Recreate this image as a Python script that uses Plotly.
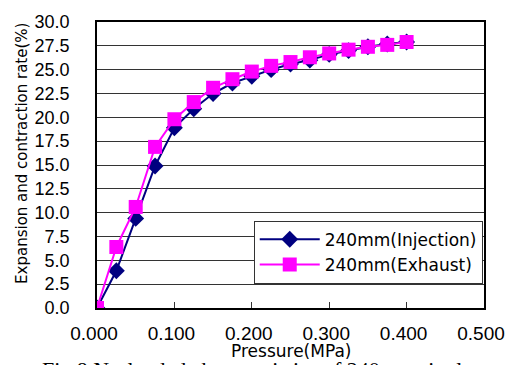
import plotly.graph_objects as go

pressure = [0.0, 0.025, 0.05, 0.075, 0.1, 0.125, 0.15, 0.175, 0.2, 0.225, 0.25, 0.275, 0.3, 0.325, 0.35, 0.375, 0.4]
injection = [0.0, 3.9, 9.4, 14.9, 18.9, 20.9, 22.5, 23.6, 24.3, 25.0, 25.6, 26.0, 26.6, 27.0, 27.4, 27.7, 27.9]
exhaust = [0.0, 6.4, 10.6, 16.9, 19.8, 21.6, 23.1, 24.0, 24.8, 25.4, 25.8, 26.3, 26.7, 27.1, 27.4, 27.6, 27.9]
xticks = [0.0, 0.1, 0.2, 0.3, 0.4, 0.5]
xticklabels = ["0.000", "0.100", "0.200", "0.300", "0.400", "0.500"]
yticks = [0, 2.5, 5, 7.5, 10, 12.5, 15, 17.5, 20, 22.5, 25, 27.5, 30]
yticklabels = [f"{v:.1f}" for v in yticks]

font = "Liberation Sans, Arial, sans-serif"
H, T, B = 365, 15, 57
PH = H - T - B

fig = go.Figure()
fig.add_trace(go.Scatter(
    x=pressure, y=injection, mode="lines+markers", name="240mm(Injection)",
    line=dict(color="#000080", width=2),
    marker=dict(symbol="diamond", size=13, color="#000080"),
))
fig.add_trace(go.Scatter(
    x=pressure, y=exhaust, mode="lines+markers", name="240mm(Exhaust)",
    line=dict(color="#FF00FF", width=2),
    marker=dict(symbol="square", size=14, color="#FF00FF"),
))

fig.update_layout(
    width=517, height=H,
    margin=dict(l=97, r=22, t=T, b=B),
    paper_bgcolor="white", plot_bgcolor="white",
    font=dict(family=font, size=16, color="black"),
    showlegend=True,
    legend=dict(
        x=0.405, y=0.305, xanchor="left", yanchor="top",
        bgcolor="white", bordercolor="#333333", borderwidth=1,
        font=dict(size=17, family="DejaVu Sans, sans-serif"), tracegroupgap=0, itemwidth=60,
    ),
    xaxis=dict(
        range=[0, 0.5], tickvals=xticks, ticktext=xticklabels,
        showgrid=False, zeroline=False, showline=True, linecolor="black", linewidth=1.5,
        mirror=True, ticks="inside", ticklen=6, tickcolor="#333333",
        ticklabelstandoff=7, ticklabelshift=-3, ticklabeloverflow="allow",
        tickfont=dict(size=19),
    ),
    yaxis=dict(
        range=[0, 30], tickvals=yticks, ticktext=yticklabels,
        showgrid=True, gridcolor="#333333", gridwidth=1,
        zeroline=False, showline=True, linecolor="black", linewidth=1.5,
        mirror=True, ticks="", tickfont=dict(size=18),
        ticklabelstandoff=22,
    ),
)

# axis titles
fig.add_annotation(
    text="Pressure(MPa)", xref="paper", yref="paper",
    x=(297 - 97) / 398, y=-(352 - (H - B)) / PH, xanchor="center", yanchor="middle",
    showarrow=False, font=dict(family="DejaVu Sans, sans-serif", size=17),
)
fig.add_annotation(
    text="Expansion and contraction rate(%)", xref="paper", yref="paper",
    x=-(97 - 20) / 398, y=((H - B) - 150) / PH, xanchor="center", yanchor="middle",
    textangle=-90, showarrow=False, font=dict(family="DejaVu Sans, sans-serif", size=15),
)

fig.add_annotation(
    text="Fig.8 No-loaded characteristics of 240mm single",
    xref="paper", yref="paper", x=(38 - 97) / 398, y=-(356 - (H - B)) / PH,
    xanchor="left", yanchor="top",
    showarrow=False, font=dict(family="Liberation Serif, Times New Roman, serif", size=22),
)

fig.write_html("out.html")
